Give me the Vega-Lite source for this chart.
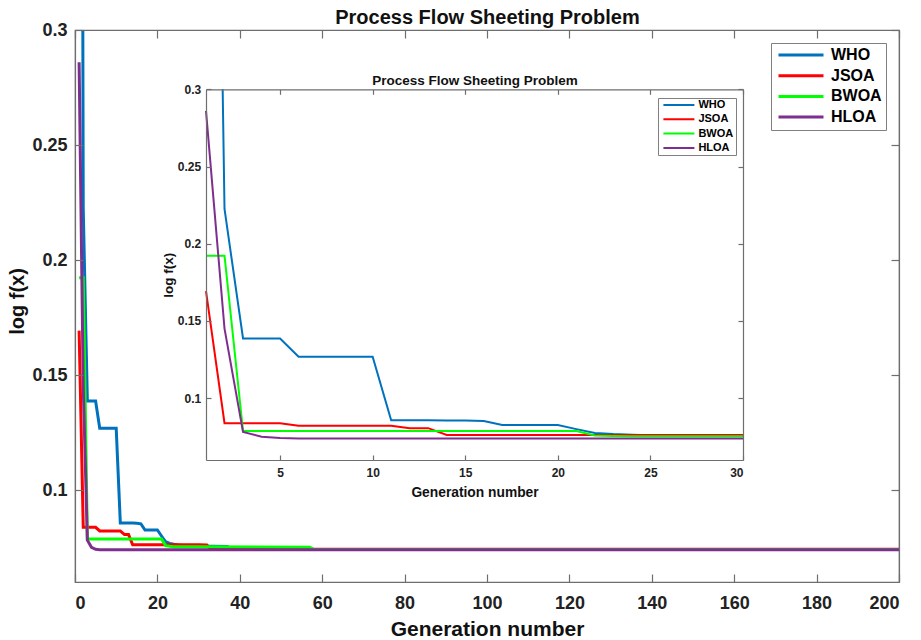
{
  "$schema": "https://vega.github.io/schema/vega-lite/v6.json",
  "autosize": {"type": "none"},
  "padding": {"left": 75, "top": 30, "right": 22, "bottom": 58},
  "width": 824,
  "height": 552,
  "config": {
    "font": "Liberation Sans",
    "view": {"stroke": "#6e6e6e", "strokeWidth": 1.2, "fill": "#ffffff"},
    "axis": {"grid": false, "zindex": 1, "domainColor": "#6e6e6e", "tickColor": "#6e6e6e", "labelColor": "#222222", "titleColor": "#111111", "labelFontWeight": "bold", "titleFontWeight": "bold", "domainWidth": 1.2, "tickWidth": 1.2},
    "legend": {"title": null, "symbolType": "stroke", "labelFontWeight": "bold", "labelColor": "#000000", "strokeColor": "#808080", "fillColor": "#ffffff"}
  },
  "datasets": {
    "conv": [
      {"algo": "WHO", "gen": 1, "value": 1.0},
      {"algo": "WHO", "gen": 2, "value": 0.2225},
      {"algo": "WHO", "gen": 3, "value": 0.1387},
      {"algo": "WHO", "gen": 4, "value": 0.1387},
      {"algo": "WHO", "gen": 5, "value": 0.1387},
      {"algo": "WHO", "gen": 6, "value": 0.1269},
      {"algo": "WHO", "gen": 7, "value": 0.1269},
      {"algo": "WHO", "gen": 8, "value": 0.1269},
      {"algo": "WHO", "gen": 9, "value": 0.1269},
      {"algo": "WHO", "gen": 10, "value": 0.1269},
      {"algo": "WHO", "gen": 11, "value": 0.0857},
      {"algo": "WHO", "gen": 12, "value": 0.0857},
      {"algo": "WHO", "gen": 13, "value": 0.0857},
      {"algo": "WHO", "gen": 14, "value": 0.0856},
      {"algo": "WHO", "gen": 15, "value": 0.0855},
      {"algo": "WHO", "gen": 16, "value": 0.0853},
      {"algo": "WHO", "gen": 17, "value": 0.0826},
      {"algo": "WHO", "gen": 18, "value": 0.0826},
      {"algo": "WHO", "gen": 19, "value": 0.0826},
      {"algo": "WHO", "gen": 20, "value": 0.0826},
      {"algo": "WHO", "gen": 21, "value": 0.0800},
      {"algo": "WHO", "gen": 22, "value": 0.0775},
      {"algo": "WHO", "gen": 23, "value": 0.0768},
      {"algo": "WHO", "gen": 24, "value": 0.0764},
      {"algo": "WHO", "gen": 25, "value": 0.0761},
      {"algo": "WHO", "gen": 26, "value": 0.0759},
      {"algo": "WHO", "gen": 27, "value": 0.0758},
      {"algo": "WHO", "gen": 28, "value": 0.0757},
      {"algo": "WHO", "gen": 29, "value": 0.0757},
      {"algo": "WHO", "gen": 30, "value": 0.0756},
      {"algo": "WHO", "gen": 37, "value": 0.0754},
      {"algo": "WHO", "gen": 38, "value": 0.0741},
      {"algo": "WHO", "gen": 200, "value": 0.0741},
      {"algo": "JSOA", "gen": 1, "value": 0.1693},
      {"algo": "JSOA", "gen": 2, "value": 0.0838},
      {"algo": "JSOA", "gen": 3, "value": 0.0838},
      {"algo": "JSOA", "gen": 4, "value": 0.0838},
      {"algo": "JSOA", "gen": 5, "value": 0.0838},
      {"algo": "JSOA", "gen": 6, "value": 0.0822},
      {"algo": "JSOA", "gen": 7, "value": 0.0822},
      {"algo": "JSOA", "gen": 8, "value": 0.0822},
      {"algo": "JSOA", "gen": 9, "value": 0.0822},
      {"algo": "JSOA", "gen": 10, "value": 0.0822},
      {"algo": "JSOA", "gen": 11, "value": 0.0822},
      {"algo": "JSOA", "gen": 12, "value": 0.0806},
      {"algo": "JSOA", "gen": 13, "value": 0.0806},
      {"algo": "JSOA", "gen": 14, "value": 0.0762},
      {"algo": "JSOA", "gen": 15, "value": 0.0762},
      {"algo": "JSOA", "gen": 16, "value": 0.0762},
      {"algo": "JSOA", "gen": 17, "value": 0.0762},
      {"algo": "JSOA", "gen": 18, "value": 0.0762},
      {"algo": "JSOA", "gen": 19, "value": 0.0762},
      {"algo": "JSOA", "gen": 20, "value": 0.0762},
      {"algo": "JSOA", "gen": 21, "value": 0.0762},
      {"algo": "JSOA", "gen": 22, "value": 0.0762},
      {"algo": "JSOA", "gen": 23, "value": 0.0762},
      {"algo": "JSOA", "gen": 24, "value": 0.0762},
      {"algo": "JSOA", "gen": 25, "value": 0.0762},
      {"algo": "JSOA", "gen": 26, "value": 0.0762},
      {"algo": "JSOA", "gen": 27, "value": 0.0762},
      {"algo": "JSOA", "gen": 28, "value": 0.0762},
      {"algo": "JSOA", "gen": 29, "value": 0.0762},
      {"algo": "JSOA", "gen": 30, "value": 0.0762},
      {"algo": "JSOA", "gen": 32, "value": 0.0761},
      {"algo": "JSOA", "gen": 33, "value": 0.0742},
      {"algo": "JSOA", "gen": 200, "value": 0.0742},
      {"algo": "BWOA", "gen": 1, "value": 0.1923},
      {"algo": "BWOA", "gen": 2, "value": 0.1923},
      {"algo": "BWOA", "gen": 3, "value": 0.0787},
      {"algo": "BWOA", "gen": 4, "value": 0.0787},
      {"algo": "BWOA", "gen": 5, "value": 0.0787},
      {"algo": "BWOA", "gen": 6, "value": 0.0787},
      {"algo": "BWOA", "gen": 7, "value": 0.0787},
      {"algo": "BWOA", "gen": 8, "value": 0.0787},
      {"algo": "BWOA", "gen": 9, "value": 0.0787},
      {"algo": "BWOA", "gen": 10, "value": 0.0787},
      {"algo": "BWOA", "gen": 11, "value": 0.0787},
      {"algo": "BWOA", "gen": 12, "value": 0.0787},
      {"algo": "BWOA", "gen": 13, "value": 0.0787},
      {"algo": "BWOA", "gen": 14, "value": 0.0787},
      {"algo": "BWOA", "gen": 15, "value": 0.0787},
      {"algo": "BWOA", "gen": 16, "value": 0.0787},
      {"algo": "BWOA", "gen": 17, "value": 0.0787},
      {"algo": "BWOA", "gen": 18, "value": 0.0787},
      {"algo": "BWOA", "gen": 19, "value": 0.0787},
      {"algo": "BWOA", "gen": 20, "value": 0.0787},
      {"algo": "BWOA", "gen": 21, "value": 0.0787},
      {"algo": "BWOA", "gen": 22, "value": 0.0758},
      {"algo": "BWOA", "gen": 23, "value": 0.0755},
      {"algo": "BWOA", "gen": 24, "value": 0.0753},
      {"algo": "BWOA", "gen": 25, "value": 0.0753},
      {"algo": "BWOA", "gen": 26, "value": 0.0753},
      {"algo": "BWOA", "gen": 27, "value": 0.0753},
      {"algo": "BWOA", "gen": 28, "value": 0.0753},
      {"algo": "BWOA", "gen": 29, "value": 0.0753},
      {"algo": "BWOA", "gen": 30, "value": 0.0753},
      {"algo": "BWOA", "gen": 57, "value": 0.0751},
      {"algo": "BWOA", "gen": 58, "value": 0.0741},
      {"algo": "BWOA", "gen": 200, "value": 0.0741},
      {"algo": "HLOA", "gen": 1, "value": 0.286},
      {"algo": "HLOA", "gen": 2, "value": 0.1451},
      {"algo": "HLOA", "gen": 3, "value": 0.0782},
      {"algo": "HLOA", "gen": 4, "value": 0.0751},
      {"algo": "HLOA", "gen": 5, "value": 0.0742},
      {"algo": "HLOA", "gen": 6, "value": 0.0740},
      {"algo": "HLOA", "gen": 7, "value": 0.0740},
      {"algo": "HLOA", "gen": 8, "value": 0.0740},
      {"algo": "HLOA", "gen": 9, "value": 0.0740},
      {"algo": "HLOA", "gen": 10, "value": 0.0740},
      {"algo": "HLOA", "gen": 11, "value": 0.0740},
      {"algo": "HLOA", "gen": 12, "value": 0.0740},
      {"algo": "HLOA", "gen": 13, "value": 0.0740},
      {"algo": "HLOA", "gen": 14, "value": 0.0740},
      {"algo": "HLOA", "gen": 15, "value": 0.0740},
      {"algo": "HLOA", "gen": 16, "value": 0.0740},
      {"algo": "HLOA", "gen": 17, "value": 0.0740},
      {"algo": "HLOA", "gen": 18, "value": 0.0740},
      {"algo": "HLOA", "gen": 19, "value": 0.0740},
      {"algo": "HLOA", "gen": 20, "value": 0.0740},
      {"algo": "HLOA", "gen": 21, "value": 0.0740},
      {"algo": "HLOA", "gen": 22, "value": 0.0740},
      {"algo": "HLOA", "gen": 23, "value": 0.0740},
      {"algo": "HLOA", "gen": 24, "value": 0.0740},
      {"algo": "HLOA", "gen": 25, "value": 0.0740},
      {"algo": "HLOA", "gen": 26, "value": 0.0740},
      {"algo": "HLOA", "gen": 27, "value": 0.0740},
      {"algo": "HLOA", "gen": 28, "value": 0.0740},
      {"algo": "HLOA", "gen": 29, "value": 0.0740},
      {"algo": "HLOA", "gen": 30, "value": 0.0740},
      {"algo": "HLOA", "gen": 200, "value": 0.0740}
    ],
    "insetMask": [
      {"gx0": 1, "gx1": 30, "vy0": 0.3, "vy1": 0.339}
    ]
  },
  "data": {"name": "conv"},
  "resolve": {"scale": {"x": "independent", "y": "independent", "color": "independent"}, "legend": {"color": "independent"}},
  "layer": [
    {
      "mark": {"type": "line", "strokeWidth": 3, "clip": true},
      "encoding": {
        "x": {"field": "gen", "type": "quantitative", "scale": {"domain": [0, 200], "nice": false, "zero": false},
          "axis": {"orient": "bottom", "zindex": 1, "values": [0, 20, 40, 60, 80, 100, 120, 140, 160, 180, 200], "format": "d", "tickSize": -8, "labelPadding": 20, "labelFontSize": 18, "title": "Generation number", "titleFontSize": 21, "titleBaseline": "alphabetic", "titleY": 53.5}},
        "y": {"field": "value", "type": "quantitative", "scale": {"domain": [0.06, 0.3], "nice": false, "zero": false},
          "axis": {"orient": "left", "zindex": 1, "values": [0.1, 0.15, 0.2, 0.25, 0.3], "format": "~g", "tickSize": -8, "labelPadding": 16, "labelFontSize": 18, "title": "log f(x)", "titleFontSize": 20, "titleBaseline": "alphabetic", "titleX": -51.5, "titleY": 271}},
        "color": {"field": "algo", "type": "nominal",
          "scale": {"domain": ["WHO", "JSOA", "BWOA", "HLOA"], "range": ["#0072BD", "#FF0000", "#00FF00", "#7E2F8E"]},
          "legend": {"orient": "none", "legendX": 696, "legendY": 13, "symbolSize": 2025, "symbolStrokeWidth": 3, "labelFontSize": 16, "padding": 4, "clipHeight": 16, "rowPadding": 4.7, "symbolOffset": 2, "labelOffset": 6}}
      }
    },
    {
      "mark": {"type": "line", "strokeOpacity": 0, "clip": true},
      "encoding": {
        "x": {"field": "gen", "type": "quantitative", "scale": {"domain": [0, 200], "nice": false, "zero": false},
          "axis": {"orient": "top", "zindex": 2, "values": [0, 20, 40, 60, 80, 100, 120, 140, 160, 180, 200], "labels": false, "tickSize": -8, "title": "Process Flow Sheeting Problem", "titleFontSize": 20, "titleColor": "#111111", "titleBaseline": "alphabetic", "titleY": -7}},
        "y": {"field": "value", "type": "quantitative", "scale": {"domain": [0.06, 0.3], "nice": false, "zero": false},
          "axis": {"orient": "right", "zindex": 2, "values": [0.1, 0.15, 0.2, 0.25, 0.3], "labels": false, "tickSize": -8, "title": null}}
      }
    },
    {
      "transform": [{"filter": "datum.gen <= 30"}],
      "mark": {"type": "line", "strokeWidth": 2, "clip": true},
      "encoding": {
        "x": {"field": "gen", "type": "quantitative", "scale": {"domain": [1, 30], "range": [131, 668], "nice": false, "zero": false},
          "axis": {"orient": "bottom", "zindex": 1, "offset": -122, "values": [5, 10, 15, 20, 25, 30], "format": "d", "tickSize": -5, "labelPadding": 12.4, "labelFontSize": 12, "title": "Generation number", "titleFontSize": 13.8, "titleBaseline": "alphabetic", "titleY": 36}},
        "y": {"field": "value", "type": "quantitative", "scale": {"domain": [0.06, 0.3], "range": [430, 59.3], "nice": false, "zero": false},
          "axis": {"orient": "left", "zindex": 1, "offset": -131, "values": [0.1, 0.15, 0.2, 0.25, 0.3], "format": "~g", "tickSize": -5, "labelPadding": 10.3, "labelFontSize": 12, "title": "log f(x)", "titleFontSize": 13.5, "titleBaseline": "alphabetic", "titleX": -34}},
        "color": {"field": "algo", "type": "nominal",
          "scale": {"domain": ["WHO", "JSOA", "BWOA", "HLOA"], "range": ["#0072BD", "#FF0000", "#00FF00", "#7E2F8E"]},
          "legend": {"orient": "none", "legendX": 583, "legendY": 68, "symbolSize": 961, "symbolStrokeWidth": 2, "labelFontSize": 11, "padding": 2, "clipHeight": 10, "rowPadding": 3.3, "symbolOffset": 2.4, "labelOffset": 3}}
      }
    },
    {
      "data": {"name": "insetMask"},
      "mark": {"type": "rect", "fill": "#ffffff", "clip": true},
      "encoding": {
        "x": {"field": "gx0", "type": "quantitative", "scale": {"domain": [1, 30], "range": [131, 668], "nice": false, "zero": false}, "axis": null},
        "x2": {"field": "gx1"},
        "y": {"field": "vy0", "type": "quantitative", "scale": {"domain": [0.06, 0.3], "range": [430, 59.3], "nice": false, "zero": false}, "axis": null},
        "y2": {"field": "vy1"}
      }
    },
    {
      "transform": [{"filter": "datum.gen <= 30"}],
      "mark": {"type": "line", "strokeOpacity": 0, "clip": true},
      "encoding": {
        "x": {"field": "gen", "type": "quantitative", "scale": {"domain": [1, 30], "range": [131, 668], "nice": false, "zero": false},
          "axis": {"orient": "top", "zindex": 2, "offset": -59.3, "values": [5, 10, 15, 20, 25, 30], "labels": false, "tickSize": -5, "title": "Process Flow Sheeting Problem", "titleFontSize": 13.5, "titleColor": "#111111", "titleBaseline": "alphabetic", "titleY": -5}},
        "y": {"field": "value", "type": "quantitative", "scale": {"domain": [0.06, 0.3], "range": [430, 59.3], "nice": false, "zero": false},
          "axis": {"orient": "right", "zindex": 2, "offset": -156, "values": [0.1, 0.15, 0.2, 0.25, 0.3], "labels": false, "tickSize": -5, "title": null}}
      }
    }
  ]
}
